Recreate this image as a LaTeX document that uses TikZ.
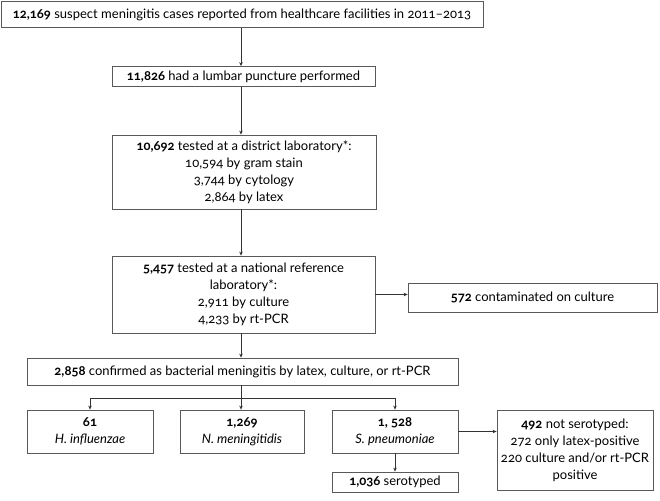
\documentclass[tikz,border=0pt]{standalone}
\usepackage{fontspec}
\setmainfont{Lato}[Numbers=OldStyle]
\usetikzlibrary{arrows.meta}
\begin{document}
\begin{tikzpicture}[x=1pt,y=-1pt,
  box/.style={draw=black!65,line width=0.8pt,rectangle,inner sep=0pt,align=center,
    font=\fontsize{13}{17}\selectfont},
  arr/.style={draw=black!80,line width=0.6pt,-{Stealth[length=4pt,width=3.5pt]}},
  ln/.style={draw=black!80,line width=0.6pt}]
\useasboundingbox (0,0) rectangle (660,500);
\node[box,minimum width=482pt,minimum height=26pt] (b1) at (242,14.5)
  {\textbf{12,169} suspect meningitis cases reported from healthcare facilities in 2011–2013};
\node[box,minimum width=263pt,minimum height=20pt] (b2) at (243.5,76.5)
  {\textbf{11,826} had a lumbar puncture performed};
\node[box,minimum width=264pt,minimum height=74pt] (b3) at (244,172)
  {\textbf{10,692} tested at a district laboratory*:\\10,594 by gram stain\\3,744 by cytology\\2,864 by latex};
\node[box,minimum width=263pt,minimum height=77pt] (b4) at (243.5,294.5)
  {\textbf{5,457} tested at a national reference\\laboratory*:\\2,911 by culture\\4,233 by rt-PCR};
\node[box,minimum width=249pt,minimum height=29pt] (b572) at (532.5,297.5)
  {\textbf{572} contaminated on culture};
\node[box,minimum width=431pt,minimum height=27pt] (b5) at (242.5,371.5)
  {\textbf{2,858} confirmed as bacterial meningitis by latex, culture, or rt-PCR};
\node[box,minimum width=126pt,minimum height=43pt] (bH) at (90,431.5)
  {\textbf{61}\\\textit{H. influenzae}};
\node[box,minimum width=124pt,minimum height=43pt] (bN) at (242,431.5)
  {\textbf{1,269}\\\textit{N. meningitidis}};
\node[box,minimum width=126pt,minimum height=43pt] (bS) at (395,431.5)
  {\textbf{1, 528}\\\textit{S. pneumoniae}};
\node[box,minimum width=126pt,minimum height=20pt] (bSer) at (395,482)
  {\textbf{1,036} serotyped};
\node[box,minimum width=156pt,minimum height=80pt] (b492) at (575,450)
  {\textbf{492} not serotyped:\\272 only latex-positive\\220 culture and/or rt-PCR\\positive};
\coordinate (cx) at (241,0);
\draw[arr] (cx |- b1.south) -- (cx |- b2.north);
\draw[arr] (cx |- b2.south) -- (cx |- b3.north);
\draw[arr] (cx |- b3.south) -- (cx |- b4.north);
\draw[arr] (cx |- b4.south) -- (cx |- b5.north);
\draw[arr] (b4.east) -- (b4.east -| b572.west);
\draw[arr] (cx |- b5.south) -- (cx |- bN.north);
\coordinate (j) at (241,398);
\draw[ln] (j -| bH.north) -- (j -| bS.north);
\draw[arr] (j -| bH.north) -- (bH.north);
\draw[arr] (j -| bS.north) -- (bS.north);
\draw[arr] (bS.south) -- (bSer.north);
\draw[arr] (bS.east) -- (bS.east -| b492.west);
\end{tikzpicture}
\end{document}
